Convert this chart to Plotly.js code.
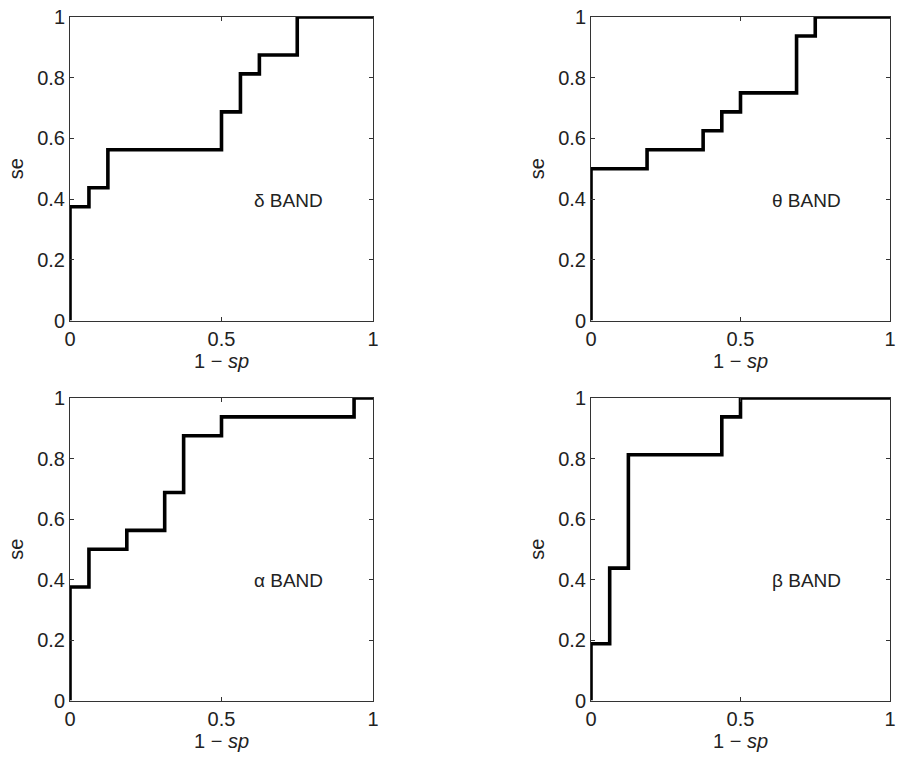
<!DOCTYPE html>
<html>
<head>
<meta charset="utf-8">
<script src="https://cdn.plot.ly/plotly-3.0.1.min.js"></script>
<style>html,body{margin:0;padding:0;background:#fff;}#chart{width:898px;height:758px;}</style>
</head>
<body>
<div id="chart"></div>
<script>
// ROC step curves: x = 1 - sp, y = se (points drawn with step shape 'hv')
const deltaX = [0, 0, 0.0625, 0.125, 0.5, 0.5625, 0.625, 0.75, 1];
const deltaY = [0, 0.375, 0.4375, 0.5625, 0.6875, 0.8125, 0.875, 1, 1];

const thetaX = [0, 0, 0.1875, 0.375, 0.4375, 0.5, 0.6875, 0.75, 1];
const thetaY = [0, 0.5, 0.5625, 0.625, 0.6875, 0.75, 0.9375, 1, 1];

const alphaX = [0, 0, 0.0625, 0.1875, 0.3125, 0.375, 0.5, 0.9375, 1];
const alphaY = [0, 0.375, 0.5, 0.5625, 0.6875, 0.875, 0.9375, 1, 1];

const betaX = [0, 0, 0.0625, 0.125, 0.4375, 0.5, 1];
const betaY = [0, 0.1875, 0.4375, 0.8125, 0.9375, 1, 1];

const bandLabels = ["\u03b4 BAND", "\u03b8 BAND", "\u03b1 BAND", "\u03b2 BAND"];
const xTickVals = [0, 0.5, 1];
const xTickText = ["0", "0.5", "1"];
const yTickVals = [0, 0.2, 0.4, 0.6, 0.8, 1];
const yTickText = ["0", "0.2", "0.4", "0.6", "0.8", "1"];
const xTitle = "1 \u2212 <i>sp</i>";
const yTitle = "se";
const labelPos = {x: 0.72, y: 0.397};

const series = [[deltaX, deltaY], [thetaX, thetaY], [alphaX, alphaY], [betaX, betaY]];

const W = 898, H = 758;
const xDomains = [[70 / W, 373 / W], [591 / W, 890 / W]];
const yDomains = [[1 - 320.5 / H, 1 - 17 / H], [1 - 700.5 / H, 1 - 398 / H]];

const FONT = "'Liberation Sans', Arial, sans-serif";
const FS = 20;
const TXT = "#222";
const traces = [];
const layout = {
  width: W, height: H,
  margin: {l: 0, r: 0, t: 0, b: 0},
  paper_bgcolor: "#fff", plot_bgcolor: "#fff",
  showlegend: false,
  font: {family: FONT, size: FS, color: TXT},
  annotations: []
};

series.forEach((s, i) => {
  const n = i + 1;
  const xa = n === 1 ? "x" : "x" + n;
  const ya = n === 1 ? "y" : "y" + n;
  traces.push({
    type: "scatter", mode: "lines",
    x: s[0], y: s[1], xaxis: xa, yaxis: ya,
    line: {shape: "hv", color: "#000", width: 3.6},
    hoverinfo: "skip"
  });
  const col = i % 2, row = Math.floor(i / 2);
  const axCommon = {
    showgrid: false, zeroline: false,
    showline: true, linecolor: "#333", linewidth: 1,
    mirror: "ticks", ticks: "inside", ticklen: 4, tickcolor: "#333",
    tickfont: {family: FONT, size: FS, color: TXT},
    ticklabeloverflow: "allow",
    fixedrange: true
  };
  layout["xaxis" + (n === 1 ? "" : n)] = Object.assign({}, axCommon, {
    domain: xDomains[col], anchor: ya, range: [0, 1],
    tickmode: "array", tickvals: xTickVals, ticktext: xTickText,
    title: {text: xTitle, font: {family: FONT, size: FS, color: TXT}, standoff: 5}
  });
  layout["yaxis" + (n === 1 ? "" : n)] = Object.assign({}, axCommon, {
    domain: yDomains[row], anchor: xa, range: [0, 1],
    tickmode: "array", tickvals: yTickVals, ticktext: yTickText,
    title: {text: yTitle, font: {family: FONT, size: FS, color: TXT}, standoff: 8}
  });
  layout.annotations.push({
    xref: xa + " domain", yref: ya + " domain",
    x: labelPos.x, y: labelPos.y, xanchor: "center", yanchor: "middle",
    text: bandLabels[i], showarrow: false,
    font: {family: FONT, size: 19, color: TXT}
  });
});

Plotly.newPlot("chart", traces, layout, {displayModeBar: false, staticPlot: true});
</script>
</body>
</html>
